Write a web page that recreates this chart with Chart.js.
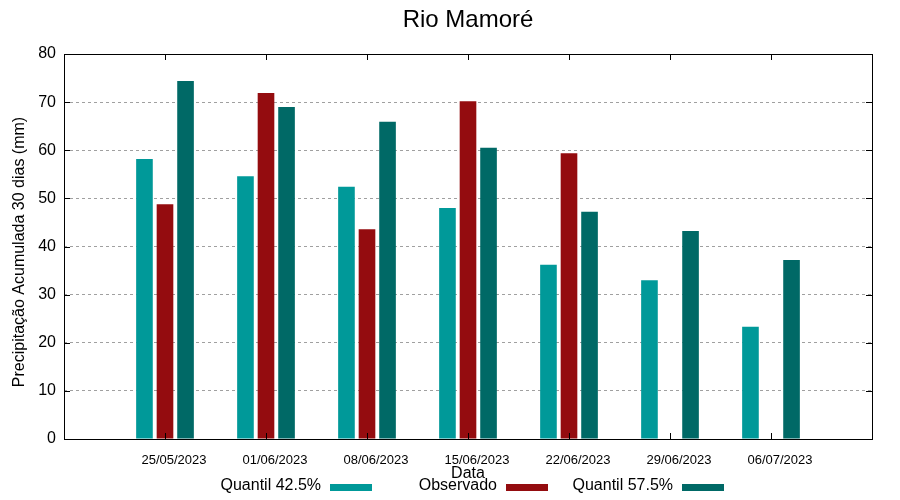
<!DOCTYPE html>
<html>
<head>
<meta charset="utf-8">
<title>Rio Mamoré</title>
<script src="https://cdn.jsdelivr.net/npm/chart.js@4.4.0/dist/chart.umd.min.js"></script>
<style>
    html, body { margin: 0; padding: 0; background: #fff; }
    #wrap { width: 900px; height: 500px; }
</style>
</head>
<body>
<div id="wrap"><canvas id="grafico" width="900" height="500"></canvas></div>
<script>
// Dados
const datas = ['25/05/2023', '01/06/2023', '08/06/2023', '15/06/2023', '22/06/2023', '29/06/2023', '06/07/2023'];
const quantil425 = [58.2, 54.6, 52.4, 48.0, 36.2, 33.0, 23.3];
const observado = [48.8, 71.9, 43.6, 70.2, 59.4, null, null];
const quantil575 = [74.4, 69.0, 65.9, 60.5, 47.2, 43.2, 37.2];
const yTicks = [0, 10, 20, 30, 40, 50, 60, 70, 80];

const titulo = 'Rio Mamoré';
const tituloY = 'Precipitação Acumulada 30 dias (mm)';
const cores = ['#009999', '#940c0f', '#006966'];

// Uma categoria vazia em cada ponta (eixo vai de 0 a 8)
const pad = arr => [null, ...arr, null];
const labels = ['', ...datas, ''];

const fonte = "'Liberation Sans', Arial, sans-serif";
Chart.defaults.font.family = fonte;
Chart.defaults.color = '#000';

// Moldura preta e marcas de escala para dentro, estilo gnuplot
const molduraPlugin = {
    id: 'moldura',
    afterDatasetsDraw(chart) {
        const { ctx, chartArea: a, scales } = chart;
        const tl = 6;
        ctx.save();
        ctx.strokeStyle = '#000';
        ctx.lineWidth = 1;
        ctx.setLineDash([]);
        ctx.beginPath();
        yTicks.forEach(v => {
            const y = Math.round(scales.y.getPixelForValue(v)) + 0.5;
            ctx.moveTo(a.left, y); ctx.lineTo(a.left + tl, y);
            ctx.moveTo(a.right, y); ctx.lineTo(a.right - tl, y);
        });
        datas.forEach((d, i) => {
            const x = Math.round(scales.x.getPixelForValue(i + 1)) + 0.5;
            ctx.moveTo(x, a.bottom); ctx.lineTo(x, a.bottom - tl);
            ctx.moveTo(x, a.top); ctx.lineTo(x, a.top + tl);
        });
        ctx.stroke();
        ctx.strokeRect(Math.round(a.left) + 0.5, Math.round(a.top) + 0.5,
            Math.round(a.right - a.left), Math.round(a.bottom - a.top));
        ctx.restore();
    }
};

// Título centrado na área do gráfico e título do eixo Y
const titulosPlugin = {
    id: 'titulos',
    afterDraw(chart) {
        const { ctx, chartArea: a } = chart;
        ctx.save();
        ctx.fillStyle = '#000';
        ctx.textAlign = 'center';
        ctx.textBaseline = 'middle';
        ctx.font = '24px ' + fonte;
        ctx.fillText(titulo, (a.left + a.right) / 2, 20);
        ctx.font = '16px ' + fonte;
        ctx.translate(20, (a.top + a.bottom) / 2 + 5.5);
        ctx.rotate(-Math.PI / 2);
        ctx.fillText(tituloY, 0, 0);
        ctx.restore();
    }
};

// Legenda embaixo: texto seguido da amostra de cor
const legendaPlugin = {
    id: 'legenda',
    afterDraw(chart) {
        const { ctx } = chart;
        ctx.save();
        ctx.font = '16px ' + fonte;
        ctx.fillStyle = '#000';
        ctx.textAlign = 'right';
        ctx.textBaseline = 'middle';
        chart.data.datasets.forEach((ds, i) => {
            const xTexto = 321 + i * 176;
            ctx.fillText(ds.label, xTexto, 486);
            ctx.fillStyle = ds.backgroundColor;
            ctx.fillRect(xTexto + 9, 484, 42, 7);
            ctx.fillStyle = '#000';
        });
        ctx.restore();
    }
};

const serie = (label, data, cor) => ({
    label: label,
    data: pad(data),
    backgroundColor: cor,
    borderWidth: 0,
    categoryPercentage: 0.61,
    barPercentage: 0.81
});

new Chart(document.getElementById('grafico'), {
    type: 'bar',
    data: {
        labels: labels,
        datasets: [
            serie('Quantil 42.5%', quantil425, cores[0]),
            serie('Observado', observado, cores[1]),
            serie('Quantil 57.5%', quantil575, cores[2])
        ]
    },
    options: {
        responsive: false,
        animation: false,
        devicePixelRatio: 1,
        layout: { padding: { left: 0, right: 28, top: 54, bottom: 0 } },
        plugins: {
            legend: { display: false },
            tooltip: { enabled: false },
            title: { display: false }
        },
        scales: {
            x: {
                offset: false,
                grid: { display: false, drawTicks: false },
                border: { display: false },
                ticks: {
                    autoSkip: false,
                    maxRotation: 0,
                    minRotation: 0,
                    padding: 14,
                    labelOffset: 9,
                    color: '#000',
                    font: { size: 13 }
                },
                title: {
                    display: true,
                    text: 'Data',
                    color: '#000',
                    font: { size: 16 },
                    padding: { top: 0, bottom: 16.4 }
                },
                afterFit(scale) { scale.height = 61; }
            },
            y: {
                min: 0,
                max: 80,
                grid: { color: '#a0a0a0', lineWidth: 1, drawTicks: false },
                border: { display: false, dash: [3, 3] },
                ticks: {
                    stepSize: 10,
                    padding: 8,
                    color: '#000',
                    font: { size: 16 }
                },
                afterFit(scale) { scale.width = 64; }
            }
        }
    },
    plugins: [molduraPlugin, titulosPlugin, legendaPlugin]
});
</script>
</body>
</html>
